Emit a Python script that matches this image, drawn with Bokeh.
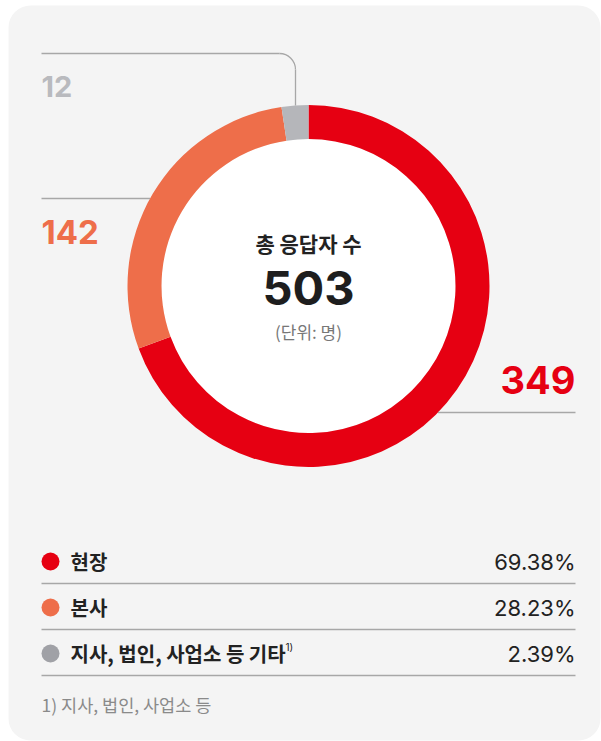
import numpy as np
from bokeh.plotting import figure
from bokeh.models import Range1d, BoxAnnotation
from bokeh.core.properties import value
from bokeh.embed import file_html
from bokeh.resources import INLINE

# ---- data -------------------------------------------------------------
categories = ["현장", "본사", "지사, 법인, 사업소 등 기타"]
counts = [349, 142, 12]
shares = ["69.38%", "28.23%", "2.39%"]
total = 503
title = "총 응답자 수"
unit = "(단위: 명)"
footnote = "1) 지사, 법인, 사업소 등"

seg_colors = ["#e60012", "#ee6e4a", "#b5b6ba"]
dot_colors = ["#e60012", "#ee6e4a", "#a0a1a6"]
num_colors = ["#e60012", "#ee6e4a", "#b9babe"]

# ---- canvas (pixel coordinates, y measured from the top) ---------------
W, H = 601, 741
KR = value("Noto Sans CJK KR")
NUM = value("Inter")


def Y(py):
    return H - py


p = figure(width=W, height=H, x_range=Range1d(0, W), y_range=Range1d(0, H),
           output_backend="svg", toolbar_location=None, min_border=0)
p.axis.visible = False
p.grid.visible = False
p.outline_line_color = None
p.background_fill_color = "white"
p.border_fill_color = "white"

panel = BoxAnnotation(left=8, right=600, bottom=Y(740), top=Y(5),
                      fill_color="#f4f4f4", fill_alpha=1.0, line_color=None,
                      border_radius=22, level="underlay")
p.add_layout(panel)

# ---- donut ------------------------------------------------------------
cx, cy_px = 308, 285.5
cy = Y(cy_px)
r_in, r_out = 147, 181

frac = np.array(counts, dtype=float) / sum(counts)
ends = np.pi / 2 - 2 * np.pi * np.cumsum(frac)
starts = np.concatenate([[np.pi / 2], ends[:-1]])

p.circle(x=[cx], y=[cy], radius=r_in, fill_color="white", line_color=None)
p.annular_wedge(x=cx, y=cy, inner_radius=r_in, outer_radius=r_out,
                start_angle=starts, end_angle=ends, direction="clock",
                fill_color=seg_colors, line_color=None)

LINE = "#a7a7a7"


def edge_x(py, side):
    dy = py - cy_px
    return cx + side * np.sqrt(r_out ** 2 - dy ** 2)


# leader for the small segment: across, round the corner, down to the ring
lx, ly, rc = 295, 53, 16
top_y = cy_px - np.sqrt(r_out ** 2 - (cx - lx) ** 2)
p.line(x=[41, lx - rc], y=[Y(ly), Y(ly)], line_color=LINE, line_width=1.3)
p.arc(x=[lx - rc], y=[Y(ly + rc)], radius=rc, start_angle=0, end_angle=np.pi / 2,
      line_color=LINE, line_width=1.3)
p.line(x=[lx, lx], y=[Y(ly + rc), Y(top_y)], line_color=LINE, line_width=1.3)

# leader for the middle segment
p.line(x=[41, edge_x(198, -1)], y=[Y(198), Y(198)], line_color=LINE, line_width=1.3)
# leader for the large segment
p.line(x=[edge_x(412, 1), 575], y=[Y(412), Y(412)], line_color=LINE, line_width=1.3)

# segment values
p.text(x=[41], y=[Y(86)], text=[str(counts[2])], text_font=NUM, text_font_style="bold",
       text_font_size="29px", text_color=num_colors[2], text_align="left",
       text_baseline="middle")
p.text(x=[41], y=[Y(231)], text=[str(counts[1])], text_font=NUM, text_font_style="bold",
       text_font_size="33px", text_color=num_colors[1], text_align="left",
       text_baseline="middle")
p.text(x=[575], y=[Y(379)], text=[str(counts[0])], text_font=NUM, text_font_style="bold",
       text_font_size="38px", text_color=num_colors[0], text_align="right",
       text_baseline="middle")

# centre labels
p.text(x=[cx], y=[Y(242)], text=[title], text_font=KR, text_font_style="bold",
       text_font_size="21px", text_color="#222222", text_align="center",
       text_baseline="middle")
p.text(x=[cx], y=[Y(287)], text=[str(total)], text_font=NUM, text_font_style="bold",
       text_font_size="47px", text_color="#1e1e1e", text_align="center",
       text_baseline="middle")
p.text(x=[cx], y=[Y(331)], text=[unit], text_font=KR,
       text_font_size="17px", text_color="#777777", text_align="center",
       text_baseline="middle")

# ---- legend table -----------------------------------------------------
row_mid = [561, 607, 653]
rule_y = [583, 629, 675]

p.scatter(x=[50] * 3, y=[Y(v) for v in row_mid], size=18, marker="circle",
          fill_color=dot_colors, line_color=None)
p.text(x=[70] * 3, y=[Y(v) for v in row_mid], text=categories, text_font=KR,
       text_font_style="bold", text_font_size="20px", text_color="#222222",
       text_align="left", text_baseline="middle")
p.text(x=[285], y=[Y(646)], text=["1)"], text_font=NUM, text_font_size="10px",
       text_color="#222222", text_align="left", text_baseline="middle")
p.text(x=[575] * 3, y=[Y(v) for v in row_mid], text=shares, text_font=NUM,
       text_font_size="22px", text_color="#222222", text_align="right",
       text_baseline="middle")
p.multi_line(xs=[[41, 575]] * 3, ys=[[Y(v), Y(v)] for v in rule_y],
             line_color=LINE, line_width=1.3)

p.text(x=[41], y=[Y(704)], text=[footnote], text_font=KR, text_font_size="17.5px",
       text_color="#8a8a8a", text_align="left", text_baseline="middle")

open("out.html", "w").write(file_html(p, INLINE))
